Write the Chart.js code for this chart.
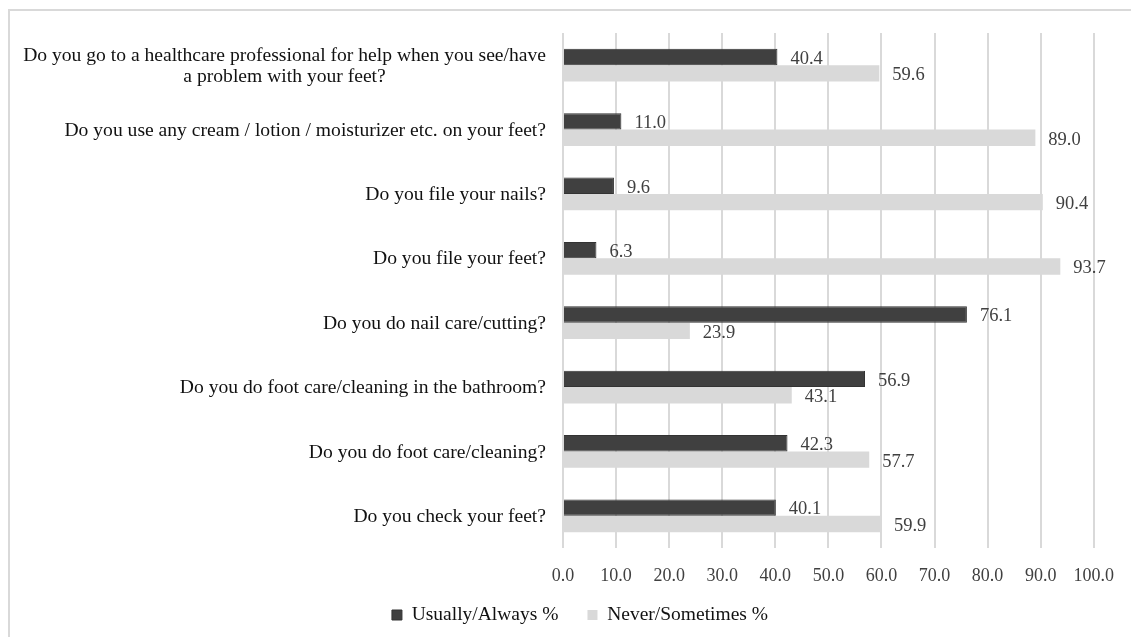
<!DOCTYPE html>
<html>
<head>
<meta charset="utf-8">
<script src="https://cdn.jsdelivr.net/npm/chart.js@4"></script>
<style>
  html, body { margin: 0; padding: 0; background: #fff; overflow: hidden; }
  #frame { position: absolute; left: 8px; top: 9px; width: 1200px; height: 700px; border: 2px solid #d9d9d9; }
  #wrap { position: absolute; left: 0; top: 0; width: 1131px; height: 637px; }
</style>
</head>
<body>
<div id="frame"></div>
<div id="wrap"><canvas id="chart"></canvas></div>
<script>
// questions, top to bottom
const categories = [
  ['Do you go to a healthcare professional for help when you see/have', 'a problem with your feet?'],
  'Do you use any cream / lotion / moisturizer etc. on your feet?',
  'Do you file your nails?',
  'Do you file your feet?',
  'Do you do nail care/cutting?',
  'Do you do foot care/cleaning in the bathroom?',
  'Do you do foot care/cleaning?',
  'Do you check your feet?'
];
const usuallyAlways = [40.4, 11.0, 9.6, 6.3, 76.1, 56.9, 42.3, 40.1];
const neverSometimes = [59.6, 89.0, 90.4, 93.7, 23.9, 43.1, 57.7, 59.9];
const seriesNames = ['Usually/Always %', 'Never/Sometimes %'];

const serif = '"Liberation Serif", "Times New Roman", serif';
Chart.defaults.font.family = serif;

// value labels right of each bar
const valueLabels = {
  id: 'valueLabels',
  afterDatasetsDraw(chart) {
    const ctx = chart.ctx;
    ctx.save();
    ctx.font = '18.5px ' + serif;
    ctx.fillStyle = '#404040';
    ctx.textAlign = 'left';
    ctx.textBaseline = 'middle';
    chart.data.datasets.forEach((ds, di) => {
      chart.getDatasetMeta(di).data.forEach((bar, i) => {
        ctx.fillText(ds.data[i].toFixed(1), bar.x + 13, bar.y + 2);
      });
    });
    ctx.restore();
  }
};

// category labels: block right aligned, lines centered in the block
const questionLabels = {
  id: 'questionLabels',
  afterDraw(chart) {
    const ctx = chart.ctx;
    const y = chart.scales.y;
    const right = chart.chartArea.left - 17;
    const lineH = 21;
    ctx.save();
    ctx.font = '19.6px ' + serif;
    ctx.fillStyle = '#111111';
    ctx.textAlign = 'center';
    ctx.textBaseline = 'middle';
    categories.forEach((label, i) => {
      const lines = Array.isArray(label) ? label : [label];
      const maxW = Math.max(...lines.map(l => ctx.measureText(l).width));
      const cx = right - maxW / 2;
      const cy = y.getPixelForValue(i);
      lines.forEach((l, j) => {
        ctx.fillText(l, cx, cy + (j - (lines.length - 1) / 2) * lineH + 1);
      });
    });
    ctx.restore();
  }
};

new Chart(document.getElementById('chart'), {
  type: 'bar',
  data: {
    labels: categories,
    datasets: [
      {
        label: seriesNames[0],
        data: usuallyAlways,
        backgroundColor: '#404040',
        borderColor: '#333333',
        borderWidth: 1,
        categoryPercentage: 0.51,
        barPercentage: 1
      },
      {
        label: seriesNames[1],
        data: neverSometimes,
        backgroundColor: '#d9d9d9',
        categoryPercentage: 0.51,
        barPercentage: 1
      }
    ]
  },
  options: {
    indexAxis: 'y',
    responsive: true,
    maintainAspectRatio: false,
    animation: false,
    layout: {
      padding: { top: 33, right: 36, bottom: 2.25, left: 65 }
    },
    plugins: {
      legend: {
        position: 'bottom',
        labels: {
          boxWidth: 10,
          boxHeight: 10,
          color: '#111111',
          padding: 29,
          font: { size: 19.5 }
        }
      },
      tooltip: { enabled: false }
    },
    scales: {
      x: {
        min: 0,
        max: 100,
        ticks: {
          stepSize: 10,
          color: '#404040',
          padding: 17,
          font: { size: 18 },
          callback: v => v.toFixed(1)
        },
        grid: {
          color: '#d9d9d9',
          lineWidth: 2,
          drawTicks: false
        },
        border: { display: false },
        afterFit: s => { s.height = 28.25; },
        // the axis box is kept short so the legend sits where it should;
        // don't let the tick labels get clipped to it
        afterUpdate: s => { s._computeLabelArea = () => undefined; }
      },
      y: {
        ticks: { display: false },
        grid: { display: false },
        border: { display: false },
        afterFit: s => { s.width = 498; }
      }
    }
  },
  plugins: [valueLabels, questionLabels]
});
</script>
</body>
</html>
